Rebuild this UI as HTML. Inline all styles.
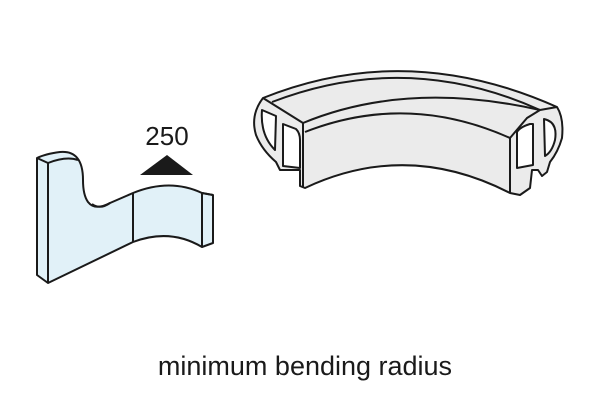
<!DOCTYPE html>
<html><head><style>body{margin:0;background:#fff}svg{display:block}</style></head><body>
<svg width="600" height="400" viewBox="0 0 600 400" xmlns="http://www.w3.org/2000/svg" font-family="Liberation Sans, sans-serif">
<g stroke="#1a1a1a" stroke-width="2" stroke-linejoin="round" fill="#e1f1f8">
<path d="M37,158 L37,275 L48,283 L133,242 Q170,228 202,247 L213,243 L213,195 L202,193 Q170,178 133,193 L110,203 Q95,211 88,202 Q83,195 83,180 Q83,150 60,152 Q45,154 37,158 Z"/>
<path d="M48,163 L48,283" fill="none"/>
<path d="M37,158 L48,163 Q66,156 78,160" fill="none"/>
<path d="M202,193 L202,247 M202,193 L213,195 M133,193 L133,242 M92,204 Q100,210 110,203" fill="none"/>
</g>
<polygon points="140,175 193,175 167,155" fill="#1a1a1a"/>
<text x="167" y="145" font-size="26" text-anchor="middle" fill="#1a1a1a">250</text>
<g stroke="#1a1a1a" stroke-width="2" stroke-linejoin="round" fill="#ebebeb">
<path d="M263,98 Q407,40 557,107 Q564,118 562,138 Q558,152 550,162 L547,172 L542,176 L538,170 L532,170 L530,188 L520,195 L510,193 Q407,140 305,188 L300,186 L300,170 L293,170 L285,170 L280,170 L276,162 Q262,150 256,135 Q250,115 263,98 Z"/>
<path d="M272,102 Q407,50 540,110" fill="none"/>
<path d="M303,123 Q407,80 540,110" fill="none"/>
<path d="M263,98 L303,123 L303,132 M540,110 L557,107" fill="none"/>
<path d="M305,132 Q407,92 510,138 L510,193" fill="none"/>
<path d="M303,123 L303,187" fill="none"/>
<path d="M540,110 L527,118 L510,138" fill="none"/>
<path d="M262,110 Q260,135 275,150 L276,116 Z" fill="#fff"/>
<path d="M283,124 L296,129 Q300,133 300,140 L300,168 L283,166 Z" fill="#fff"/>
<path d="M544,119 Q558,122 555,140 Q552,152 545,156 Z" fill="#fff"/>
<path d="M517,132 Q520,127 530,124 L533,124 L533,165 L517,168 Z" fill="#fff"/>
</g>
<text x="305" y="375" font-size="27" text-anchor="middle" fill="#1a1a1a">minimum bending radius</text>
</svg>
</body></html>
